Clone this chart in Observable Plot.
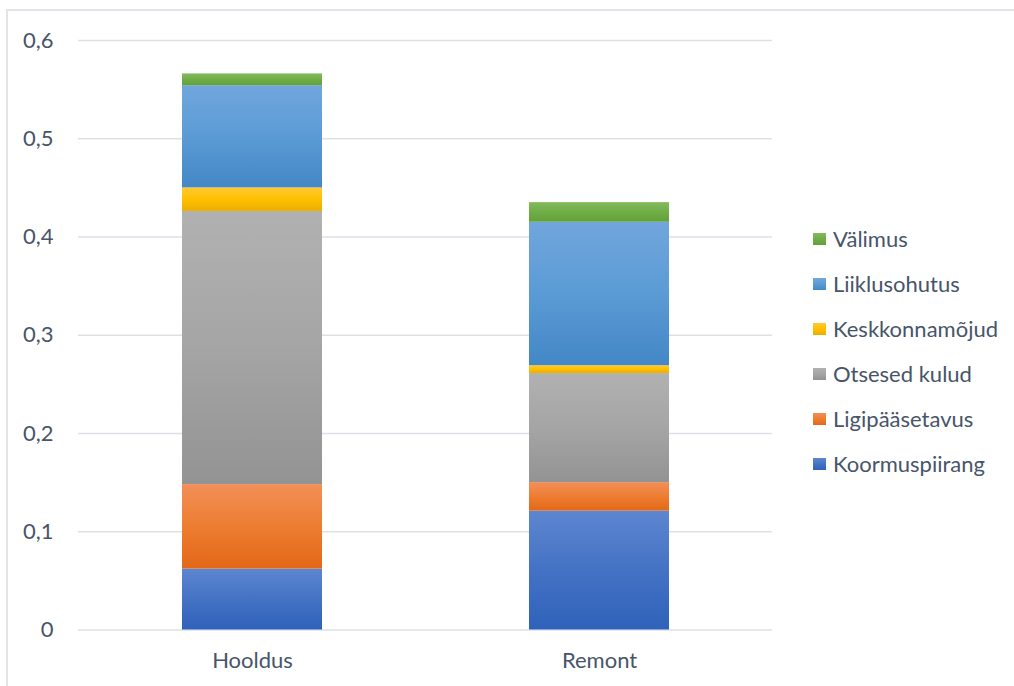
<!DOCTYPE html>
<html>
<head>
<meta charset="utf-8">
<script src="https://cdn.jsdelivr.net/npm/d3@7"></script>
<script src="https://cdn.jsdelivr.net/npm/@observablehq/plot@0.6"></script>
<style>
  html, body { margin: 0; padding: 0; background: #fff; }
  #wrap { position: relative; width: 1014px; height: 686px; overflow: hidden; font-family: Lato, "Open Sans", sans-serif; }
  #frame { position: absolute; left: 6px; top: 9px; width: 1100px; height: 800px; border-left: 2px solid #E1E4E9; border-top: 2px solid #E1E4E9; box-sizing: border-box; }
  #chart { position: absolute; left: 0; top: 0; }
  #legend { position: absolute; left: 813px; top: 216px; }
  .item { display: flex; align-items: center; height: 45px; font-size: 22px; color: #475569; }
  .sw { width: 13px; height: 12px; margin-right: 7px; }
</style>
</head>
<body>
<div id="wrap">
  <div id="frame"></div>
  <div id="chart"></div>
  <div id="legend"></div>
</div>
<script>
const categories = ["Hooldus", "Remont"];
const series = ["Koormuspiirang", "Ligipääsetavus", "Otsesed kulud", "Keskkonnamõjud", "Liiklusohutus", "Välimus"];
const hooldusValues = [0.062, 0.086, 0.278, 0.024, 0.104, 0.012];
const remontValues = [0.121, 0.029, 0.111, 0.008, 0.146, 0.020];
const yTicks = [0, 0.1, 0.2, 0.3, 0.4, 0.5, 0.6];
const seriesColors = ["#4472C4", "#ED7D31", "#A5A5A5", "#FFC000", "#5B9BD5", "#70AD47"];
const gradTop = ["#5D86D0", "#F28F58", "#B1B1B1", "#FFC935", "#71A6DD", "#84BB5E"];
const gradBottom = ["#2F62BA", "#E36818", "#939393", "#EAAE00", "#4387C6", "#62A038"];

const valuesByCat = {Hooldus: hooldusValues, Remont: remontValues};
const data = [];
for (const c of categories) {
  series.forEach((s, i) => data.push({category: c, series: s, value: valuesByCat[c][i]}));
}

const gradIds = series.map((s, i) => "grad" + i);

const plot = Plot.plot({
  width: 1014,
  height: 686,
  marginLeft: 78,
  marginRight: 242,
  marginTop: 40,
  marginBottom: 56.5,
  style: {fontFamily: "Lato, 'Open Sans', sans-serif", fontSize: "22px", color: "#475569", background: "transparent"},
  x: {domain: categories, paddingInner: 0.597, paddingOuter: 0.2985, label: null, tickSize: 0, tickPadding: 22.5},
  y: {domain: [0, 0.6], ticks: yTicks, tickFormat: d => d === 0 ? "0" : d3.format(".1f")(d).replace(".", ","), label: null, tickSize: 0, tickPadding: 25},
  color: {type: "ordinal", domain: series, range: gradIds.map(id => `url(#${id})`)},
  marks: [
    Plot.ruleY(yTicks, {stroke: "#DDE1E6", strokeWidth: 1.5, strokeOpacity: 1}),
    Plot.barY(data, {x: "category", y: "value", fill: "series", order: series})
  ]
});

// gradient defs
const svg = d3.select(plot);
const defs = svg.insert("defs", ":first-child");
series.forEach((s, i) => {
  const g = defs.append("linearGradient").attr("id", gradIds[i]).attr("x1", 0).attr("y1", 0).attr("x2", 0).attr("y2", 1);
  g.append("stop").attr("offset", "0%").attr("stop-color", gradTop[i]);
  g.append("stop").attr("offset", "50%").attr("stop-color", seriesColors[i]);
  g.append("stop").attr("offset", "100%").attr("stop-color", gradBottom[i]);
});
svg.selectAll("text").attr("fill", "#475569");
document.getElementById("chart").appendChild(plot);

const legend = d3.select("#legend");
for (let i = series.length - 1; i >= 0; i--) {
  const item = legend.append("div").attr("class", "item");
  item.append("div").attr("class", "sw").style("background", `linear-gradient(${gradTop[i]}, ${seriesColors[i]}, ${gradBottom[i]})`);
  item.append("span").text(series[i]);
}
</script>
</body>
</html>
